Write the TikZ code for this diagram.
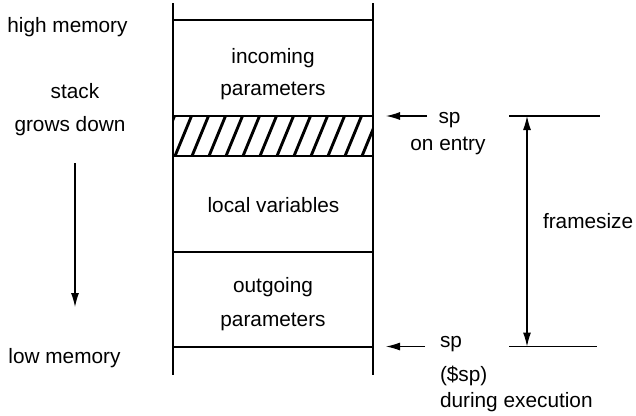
\documentclass[tikz,border=0pt]{standalone}
\usepackage{fontspec}
\setmainfont{Liberation Sans}
\usetikzlibrary{arrows.meta}
\begin{document}
\begin{tikzpicture}[x=1pt,y=-1pt,
  every node/.style={inner sep=0pt,outer sep=0pt,font=\fontsize{20.8}{33}\selectfont},
  txt/.style={anchor=base},
  txtl/.style={anchor=base west},
  line/.style={line width=1.1pt,black},
  tip/.style={Latex[length=14pt,width=8pt]},
  ptr/.style={line width=1.1pt,-{Latex[length=14pt,width=8pt]}},
  hatch/.style={line width=2.9pt},
  block/.style={draw,line width=1.1pt,minimum width=200pt,anchor=north west}
]
\useasboundingbox (0,0) rectangle (636,415);
% stack column
\coordinate (ctl) at (173,3);
\coordinate (ctr) at (373,3);
\coordinate (cbl) at (173,375);
\coordinate (cbr) at (373,375);
\node[block,minimum height=96pt] (inc) at (173,20) {};
\node[block,minimum height=40pt] (pad) at (173,116) {};
\node[block,minimum height=96pt] (loc) at (173,156) {};
\node[block,minimum height=95pt] (out) at (173,252) {};
\draw[line] (ctl) -- (inc.north west);
\draw[line] (ctr) -- (inc.north east);
\draw[line] (out.south west) -- (cbl);
\draw[line] (out.south east) -- (cbr);
% hatching
\begin{scope}
  \clip (pad.south west) rectangle (pad.north east);
  \foreach \k in {-1,...,12}
    \draw[hatch] ({175+17*\k},156) -- ({191.5+17*\k},116);
\end{scope}
\draw[line] (pad.south west) rectangle (pad.north east);
% block labels
\node[txt] (inc1) at (273,63.5) {incoming};
\node[txt] (inc2) at (273,95.5) {parameters};
\node[txt] (loc1) at (273.5,212.5) {local variables};
\node[txt] (out1) at (273,292.5) {outgoing};
\node[txt] (out2) at (273,326.5) {parameters};
% left labels
\node[txt] (high) at (67.5,32.5) {high memory};
\node[txt] (grow1) at (75,98.5) {stack};
\node[txt] (grow2) at (70,131.5) {grows down};
\node[txt] (low) at (64.5,363.5) {low memory};
\coordinate (ga) at (75,163);
\coordinate (gb) at (75,307);
\draw[ptr] (ga) -- (gb);
% sp pointers
\coordinate (sa1) at (427,116);
\coordinate (sb1) at (386,116);
\draw[ptr] (sa1) -- (sb1);
\node[txt] (sp1) at (449.5,123.5) {sp};
\node[txt] (ent) at (448,150.5) {on entry};
\coordinate (sa2) at (425,346.5);
\coordinate (sb2) at (386,346.5);
\draw[ptr] (sa2) -- (sb2);
\node[txtl] (sp2) at (440,347.5) {sp};
\node[txtl] (sp3) at (440,381) {(\$sp)};
\node[txtl] (exe) at (440,407.5) {during execution};
% framesize
\coordinate (ft1) at (509,116);
\coordinate (ft2) at (600,116);
\coordinate (fb1) at (509,346.5);
\coordinate (fb2) at (597,346.5);
\coordinate (fa) at (527,116);
\coordinate (fb) at (527,346.5);
\draw[line] (ft1) -- (ft2);
\draw[line] (fb1) -- (fb2);
\draw[line,{Latex[length=14pt,width=8pt]}-{Latex[length=14pt,width=8pt]}] (fa) -- (fb);
\node[txtl] (fs) at (543,228.5) {framesize};
\end{tikzpicture}
\end{document}
